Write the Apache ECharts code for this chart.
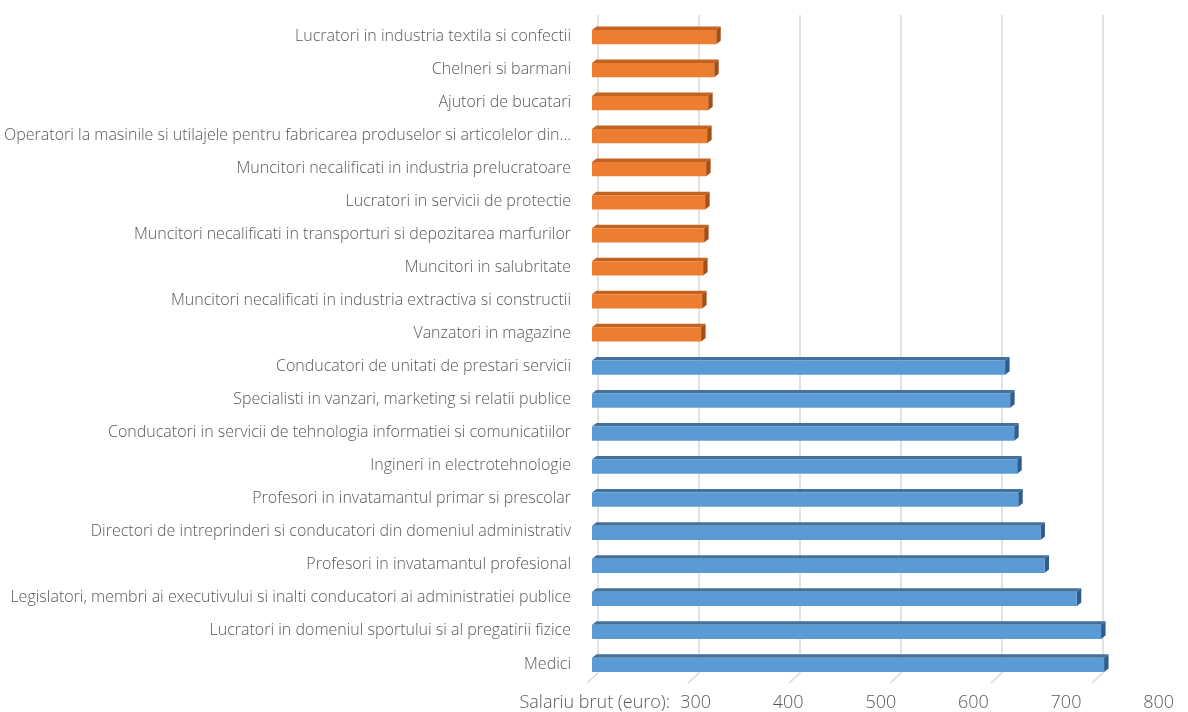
<!DOCTYPE html>
<html>
<head>
<meta charset="utf-8">
<script src="https://cdn.jsdelivr.net/npm/echarts@6/dist/echarts.min.js"></script>
<style>
html,body{margin:0;padding:0;background:#fff;}
#chart{width:1188px;height:712px;}
</style>
</head>
<body>
<div id="chart"></div>
<script>
// Categories, top to bottom
const categories = [
  "Lucratori in industria textila si confectii",
  "Chelneri si barmani",
  "Ajutori de bucatari",
  "Operatori la masinile si utilajele pentru fabricarea produselor si articolelor din...",
  "Muncitori necalificati in industria prelucratoare",
  "Lucratori in servicii de protectie",
  "Muncitori necalificati in transporturi si depozitarea marfurilor",
  "Muncitori in salubritate",
  "Muncitori necalificati in industria extractiva si constructii",
  "Vanzatori in magazine",
  "Conducatori de unitati de prestari servicii",
  "Specialisti in vanzari, marketing si relatii publice",
  "Conducatori in servicii de tehnologia informatiei si comunicatiilor",
  "Ingineri in electrotehnologie",
  "Profesori in invatamantul primar si prescolar",
  "Directori de intreprinderi si conducatori din domeniul administrativ",
  "Profesori in invatamantul profesional",
  "Legislatori, membri ai executivului si inalti conducatori ai administratiei publice",
  "Lucratori in domeniul sportului si al pregatirii fizice",
  "Medici"
];
// lowest paid (first 10 categories)
const orangeValues = [323, 321, 315, 314, 313, 312, 311, 310, 309, 308];
// highest paid (last 10 categories)
const blueValues = [609, 614, 618, 621, 622, 644, 648, 680, 704, 707];
// value axis ticks
const axisMin = 200;
const axisMax = 700;
const gridTicks = [200, 300, 400, 500, 600, 700];
const labelAxisMin = 200;
const labelAxisMax = 800;
const axisTitle = "Salariu brut (euro):";

const FONT = "'Open Sans', 'Noto Sans', sans-serif";
const TXT = '#595959';

function make3D(front, top, side) {
  return function (params, api) {
    const v = api.value(0), c = api.value(1);
    const p0 = api.coord([axisMin, c]);
    const p1 = api.coord([v, c]);
    const band = api.size([0, 1])[1];
    const h = band * 0.43;
    const y0 = p0[1] - h / 2 + 1, y1 = y0 + h;
    const x0 = p0[0], x1 = p1[0];
    const dx = 4.5, dy = -3.5;
    return {
      type: 'group',
      children: [
        {type: 'polygon', shape: {points: [[x0, y0], [x1, y0], [x1 + dx, y0 + dy], [x0 + dx, y0 + dy]]}, style: {fill: top}},
        {type: 'polygon', shape: {points: [[x1, y0], [x1, y1], [x1 + dx, y1 + dy], [x1 + dx, y0 + dy]]}, style: {fill: side}},
        {type: 'rect', shape: {x: x0, y: y0, width: x1 - x0, height: h}, style: {fill: front}}
      ]
    };
  };
}

const orangeData = orangeValues.map((v, i) => [v, i]);
const blueData = blueValues.map((v, i) => [v, i + orangeValues.length]);

const chart = echarts.init(document.getElementById('chart'), null, {renderer: 'canvas'});
chart.setOption({
  animation: false,
  backgroundColor: '#ffffff',
  grid: [
    {left: 592, right: 91, top: 19.5, bottom: 31.5},   // bars (front plane)
    {left: 598, right: 85, top: 15, bottom: 39},       // back wall gridlines
    {left: 603, right: 29.4, top: 600, bottom: 25}     // label axis
  ],
  xAxis: [
    {gridIndex: 0, type: 'value', min: axisMin, max: axisMax, interval: 100,
     axisLabel: {show: false}, axisLine: {show: false}, axisTick: {show: false}, splitLine: {show: false}},
    {gridIndex: 1, type: 'value', min: axisMin, max: axisMax, interval: 100,
     axisLabel: {show: false}, axisLine: {show: false}, axisTick: {show: false},
     splitLine: {show: true, lineStyle: {color: '#D9D9D9', width: 1.5}}},
    {gridIndex: 2, type: 'value', min: labelAxisMin, max: labelAxisMax, interval: 100,
     axisLine: {show: false}, axisTick: {show: false}, splitLine: {show: false},
     axisLabel: {show: true, showMinLabel: false, margin: 7, color: TXT, fontSize: 18, fontFamily: FONT, fontWeight: 300},
     name: axisTitle, nameLocation: 'start', nameGap: -67,
     nameTextStyle: {color: TXT, fontSize: 18, fontFamily: FONT, fontWeight: 300,
                     verticalAlign: 'top', padding: [7, 0, 0, 0]}}
  ],
  yAxis: [
    {gridIndex: 0, type: 'category', data: categories, inverse: true,
     axisLine: {show: false}, axisTick: {show: false},
     axisLabel: {interval: 0, margin: 21, color: TXT, fontSize: 16, fontFamily: FONT, fontWeight: 300}},
    {gridIndex: 1, type: 'value', min: 0, max: 1, show: false},
    {gridIndex: 2, type: 'value', min: 0, max: 1, show: false}
  ],
  series: [
    {type: 'custom', xAxisIndex: 1, yAxisIndex: 1, z: 1, silent: true,
     data: gridTicks.map(v => [v, 0]),
     renderItem: function (params, api) {
       const p = api.coord([api.value(0), 0]);
       return {type: 'line', shape: {x1: p[0], y1: p[1], x2: p[0] - 11, y2: p[1] + 10},
               style: {stroke: '#D9D9D9', lineWidth: 1.5}};
     }},
    {type: 'custom', name: 'low', xAxisIndex: 0, yAxisIndex: 0, z: 5,
     encode: {x: 0, y: 1}, data: orangeData,
     renderItem: make3D('#ED7D31', '#C4621F', '#A44F15')},
    {type: 'custom', name: 'high', xAxisIndex: 0, yAxisIndex: 0, z: 5,
     encode: {x: 0, y: 1}, data: blueData,
     renderItem: make3D('#5B9BD5', '#41719C', '#2F5E8E')}
  ]
});
</script>
</body>
</html>
